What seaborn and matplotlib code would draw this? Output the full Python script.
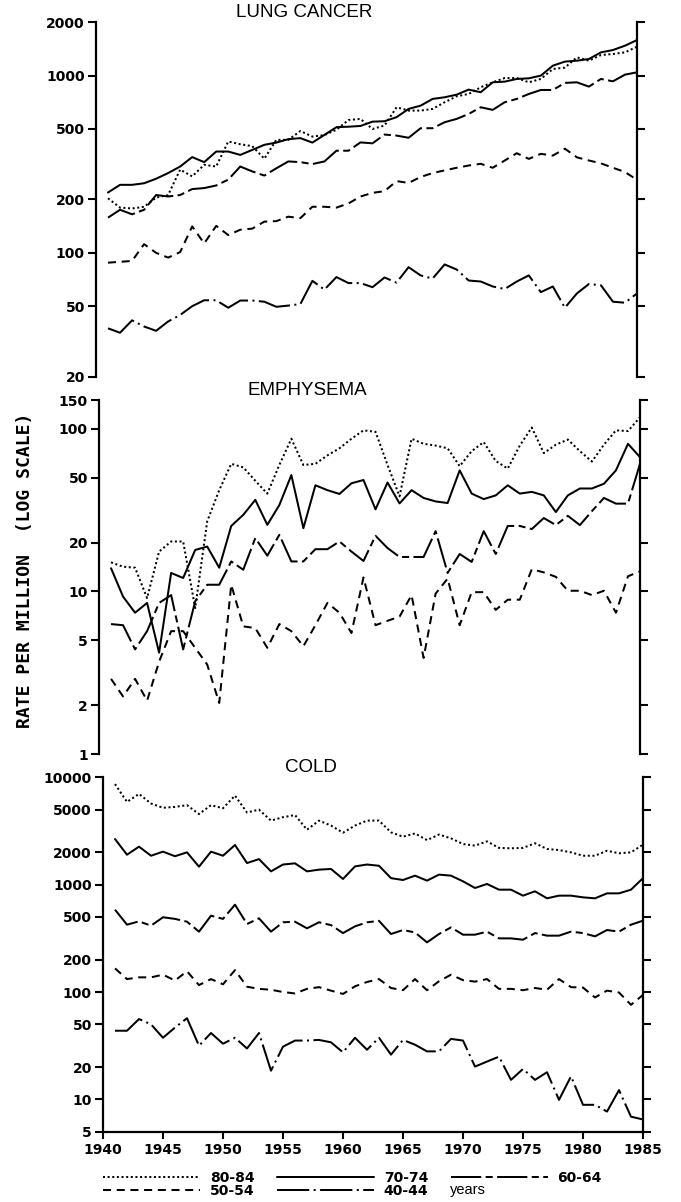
import numpy as np
import pandas as pd
import matplotlib
matplotlib.use("Agg")
import matplotlib.pyplot as plt
from matplotlib.ticker import FixedLocator, NullLocator, FixedFormatter
from matplotlib.lines import Line2D
import seaborn as sns

years = list(range(1941, 1986))
ages = ["80-84", "70-74", "60-64", "50-54", "40-44"]

# ---- LUNG CANCER ----
lung_80 = [203, 180, 178, 182, 205, 212, 295, 270, 314, 307, 425, 410, 400, 340, 434,
           434, 487, 453, 462, 495, 562, 570, 500, 523, 663, 635, 635, 649, 708, 765,
           788, 860, 917, 970, 970, 917, 958, 1090, 1110, 1268, 1215, 1307, 1325, 1353, 1457]
lung_70 = [219, 242, 242, 247, 262, 282, 307, 347, 325, 373, 373, 357, 381, 407, 419,
           438, 444, 419, 463, 512, 515, 520, 550, 553, 583, 649, 677, 739, 755, 781,
           834, 806, 917, 925, 958, 966, 1000, 1138, 1200, 1215, 1241, 1353, 1395, 1476, 1588]
lung_60 = [158, 175, 165, 175, 212, 208, 212, 229, 232, 240, 259, 307, 288, 273, 300,
           328, 325, 317, 328, 377, 377, 420, 415, 465, 459, 446, 505, 505, 546, 570,
           608, 663, 641, 708, 739, 788, 830, 830, 910, 917, 867, 958, 929, 1013, 1044]
lung_50 = [88, 89, 90, 112, 100, 94, 101, 141, 113, 142, 126, 135, 137, 150, 151,
           160, 157, 182, 182, 180, 190, 208, 218, 223, 254, 248, 268, 282, 292, 302,
           311, 318, 302, 332, 365, 339, 362, 354, 387, 346, 332, 320, 302, 286, 258]
lung_40 = [37.5, 35.4, 41.6, 38.4, 36.3, 41, 44.6, 50, 54, 54, 49, 53.8, 53.8, 53, 49.6,
           50.4, 51.4, 69.5, 62, 73, 67.5, 67.5, 64, 72.6, 67.9, 83, 74.6, 71.6, 86, 80.5,
           69.8, 68.9, 64.6, 62.5, 68.9, 74.6, 60, 64.6, 49, 59, 66.7, 65.6, 53, 52.3, 59]

# ---- EMPHYSEMA ----
emph_80 = [15.1, 14.2, 14.0, 9.1, 17.6, 20.3, 20.3, 7.9, 27, 42, 61, 58, 48, 40, 60,
           87, 60, 61, 68.7, 76, 87, 98, 96, 60, 38.5, 87, 81, 79, 76, 59,
           73, 83, 63.5, 57, 79, 102, 71, 80, 86, 73, 63, 80, 98, 97, 118]
emph_70 = [13.9, 9.3, 7.4, 8.5, 4.2, 13, 12.1, 18, 18.9, 14, 25.3, 29.6, 36.6, 25.7, 34,
           52, 24.5, 45, 42, 39.8, 46.3, 48.5, 32, 46.8, 34.8, 42, 37.6, 35.8, 35, 55.6,
           40, 37, 39, 45, 40, 41, 39, 30.8, 39, 43, 43, 46, 55.6, 81, 67]
emph_60 = [6.3, 6.2, 4.4, 5.7, 8.5, 9.5, 4.4, 8.7, 11, 11, 15.3, 13.6, 21.3, 16.6, 22.3,
           15.3, 15.3, 18.2, 18.2, 20.3, 17.6, 15.4, 22, 18.5, 16.3, 16.3, 16.3, 23.5, 13, 17,
           15.2, 23.5, 17, 25.3, 25.3, 24.2, 28.3, 25.6, 29.2, 25.6, 31.2, 37.6, 34.7, 34.7, 61]
emph_50 = [2.9, 2.26, 2.9, 2.13, 3.7, 5.7, 5.7, 4.5, 3.55, 2.06, 11, 6.1, 5.95, 4.5, 6.3,
           5.7, 4.6, 6.2, 8.5, 7.4, 5.55, 12.2, 6.2, 6.6, 7.0, 9.5, 3.9, 9.7, 12, 6.2,
           9.9, 9.9, 7.7, 8.9, 8.9, 13.7, 13.1, 12.3, 10.1, 10.1, 9.5, 10.1, 7.4, 12.4, 13.3]

# ---- COLD ----
cold_80 = [8650, 5900, 7000, 5700, 5200, 5300, 5500, 4550, 5500, 5150, 6750, 4700, 5000, 3950, 4250,
           4450, 3250, 3950, 3550, 3050, 3550, 3950, 3950, 3070, 2800, 3000, 2600, 2930, 2700, 2390,
           2310, 2530, 2200, 2180, 2200, 2430, 2150, 2100, 2000, 1860, 1860, 2070, 1960, 2000, 2360]
cold_70 = [2660, 1900, 2260, 1860, 2030, 1840, 2000, 1470, 2030, 1860, 2340, 1590, 1730, 1330, 1540,
           1580, 1330, 1380, 1400, 1130, 1480, 1540, 1500, 1150, 1105, 1213, 1090, 1240, 1213, 1074,
           931, 1015, 898, 898, 790, 867, 746, 790, 790, 762, 746, 830, 830, 898, 1150]
cold_60 = [585, 424, 455, 415, 497, 480, 452, 365, 514, 480, 651, 430, 486, 365, 446,
           452, 392, 446, 420, 354, 409, 446, 460, 347, 378, 359, 290, 347, 400, 342,
           342, 365, 316, 316, 307, 354, 335, 335, 365, 354, 330, 378, 365, 424, 462]
cold_50 = [166, 132, 137, 137, 145, 128, 156, 116, 132, 118, 160, 112, 107, 105, 100,
           97, 107, 111, 103, 96, 113, 124, 132, 109, 104, 132, 104, 126, 145, 129,
           125, 132, 107, 107, 104, 109, 105, 132, 111, 110, 89, 103, 99, 76, 94]
cold_40 = [43.6, 43.6, 56, 50, 37.5, 46.7, 57, 31.6, 41.5, 33, 37.5, 29.8, 41.5, 18.5, 31,
           35.3, 35.3, 35.8, 34, 27.4, 37.5, 29, 37.5, 26.1, 35.8, 32.3, 28, 28, 36.6, 35.3,
           20.2, 22.5, 25, 15.2, 19.2, 15.2, 17.9, 9.9, 16.4, 8.9, 8.9, 7.7, 12.2, 6.9, 6.5]

lung_ticks = [20, 50, 100, 200, 500, 1000, 2000]
emph_ticks = [1, 2, 5, 10, 20, 50, 100, 150]
cold_ticks = [5, 10, 20, 50, 100, 200, 500, 1000, 2000, 5000, 10000]
x_ticks = [1940, 1945, 1950, 1955, 1960, 1965, 1970, 1975, 1980, 1985]

titles = ["LUNG CANCER", "EMPHYSEMA", "COLD"]

def make_df(series):
    frames = []
    for age, vals in series.items():
        frames.append(pd.DataFrame({"year": years, "rate": vals, "age": age}))
    return pd.concat(frames, ignore_index=True)

panels = [
    (make_df({"80-84": lung_80, "70-74": lung_70, "60-64": lung_60,
              "50-54": lung_50, "40-44": lung_40}), lung_ticks, (20, 2000)),
    (make_df({"80-84": emph_80, "70-74": emph_70, "60-64": emph_60,
              "50-54": emph_50}), emph_ticks, (1, 150)),
    (make_df({"80-84": cold_80, "70-74": cold_70, "60-64": cold_60,
              "50-54": cold_50, "40-44": cold_40}), cold_ticks, (5, 10000)),
]

sns.set_style("ticks")
plt.rcParams["font.family"] = ["DejaVu Sans"]
plt.rcParams["text.color"] = "black"
plt.rcParams["axes.labelcolor"] = "black"
plt.rcParams["xtick.color"] = "black"
plt.rcParams["ytick.color"] = "black"

LW = 1.45
dash_map = {
    "80-84": (1, 1.3),
    "70-74": "",
    "60-64": (15, 2.2, 3.5, 2.2),
    "50-54": (4, 2.8),
    "40-44": (16, 2.2, 1.0, 2.2),
}

W, H = 681, 1202
fig = plt.figure(figsize=(W / 100, H / 100), dpi=100)
fig.patch.set_facecolor("white")

# axes boxes in pixels: (left, top, right, bottom)
boxes = [(96, 22.3, 637, 376.7), (99, 400.3, 640, 754), (103, 777.3, 643, 1131.7)]

for i, ((df, ticks, ylim), box) in enumerate(zip(panels, boxes)):
    l, t, r, b = box
    ax = fig.add_axes([l / W, 1 - b / H, (r - l) / W, (b - t) / H])
    ax.set_facecolor("white")
    order = [a for a in ages if a in df["age"].unique()]
    sns.lineplot(data=df, x="year", y="rate", style="age", style_order=order,
                 dashes={k: dash_map[k] for k in order}, color="black",
                 linewidth=LW, legend=False, ax=ax, errorbar=None)
    ax.set_yscale("log")
    ax.set_ylim(*ylim)
    ax.set_xlim(1940, 1985)
    ax.yaxis.set_major_locator(FixedLocator(ticks))
    ax.yaxis.set_major_formatter(FixedFormatter([str(t) for t in ticks]))
    ax.yaxis.set_minor_locator(NullLocator())
    ax.xaxis.set_minor_locator(NullLocator())
    ax.set_xlabel("")
    ax.set_ylabel("")
    for s in ["left", "right"]:
        ax.spines[s].set_visible(True)
        ax.spines[s].set_linewidth(1.6)
        ax.spines[s].set_color("black")
    ax.spines["top"].set_visible(False)
    ax.tick_params(axis="y", which="major", left=True, right=True, labelright=False,
                   direction="out", length=6, width=1.5, pad=2, labelsize=10, colors="black")
    for lab in ax.get_yticklabels():
        lab.set_fontweight("bold")
    if i < 2:
        ax.spines["bottom"].set_visible(False)
        ax.set_xticks([])
    else:
        ax.spines["bottom"].set_visible(True)
        ax.spines["bottom"].set_linewidth(1.6)
        ax.spines["bottom"].set_color("black")
        ax.set_xticks(x_ticks)
        ax.set_xticklabels([str(x) for x in x_ticks])
        ax.tick_params(axis="x", direction="out", length=5, width=1.5, pad=3,
                       labelsize=10, colors="black")
        for lab in ax.get_xticklabels():
            lab.set_fontweight("bold")
    ax.text(0.385, 1.004, titles[i], transform=ax.transAxes, ha="center", va="bottom",
            family=["Liberation Sans", "DejaVu Sans"], fontsize=13.5, color="black")
    ax.grid(False)

fig.text(25 / W, 1 - 570 / H, "RATE PER MILLION  (LOG SCALE)", rotation=90,
         ha="center", va="center", family=["DejaVu Sans Mono"], weight="bold",
         fontsize=13, color="black")

# legend
handles = [Line2D([], [], color="black", lw=LW,
                  linestyle=("-" if dash_map[a] == "" else (0, dash_map[a])))
           for a in ages]
order_idx = [0, 3, 1, 4, 2]
leg = fig.legend([handles[k] for k in order_idx], [ages[k] for k in order_idx],
                 loc="upper left", bbox_to_anchor=(103 / W, 1 - 1171 / H), ncol=3,
                 frameon=False, handlelength=7.0, handletextpad=0.7, columnspacing=1.6,
                 labelspacing=-0.1, borderpad=0, borderaxespad=0,
                 prop={"weight": "bold", "size": 10})
for txt in leg.get_texts():
    txt.set_color("black")
fig.text(450 / W, 1 - 1190 / H, "years", ha="left", va="center",
         family=["Liberation Sans", "DejaVu Sans"], fontsize=10.5, color="black")

fig.savefig("out.png", dpi=100, facecolor="white")
